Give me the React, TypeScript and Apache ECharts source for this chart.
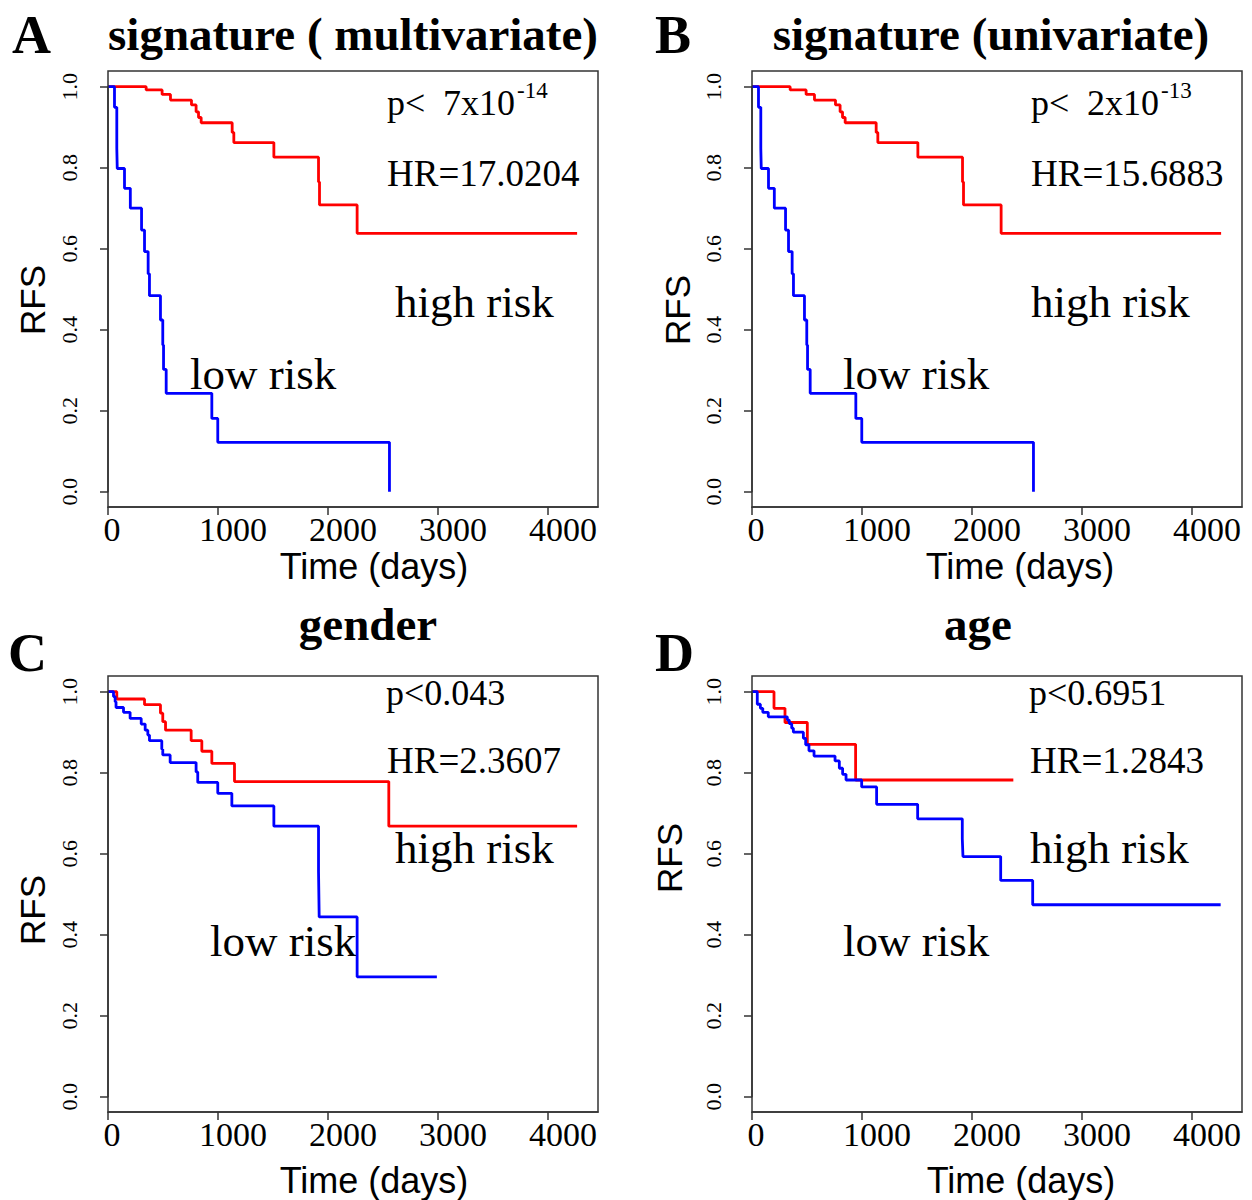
import React, { useEffect, useRef } from "react";
import * as echarts from "echarts";

// ---- Data ----
// Panel A / B : signature
const sigHighT = [0, 347, 492, 568, 759, 801, 823, 847, 1129, 1144, 1508, 1914, 1923, 2265, 4265];
const sigHighS = [1, 0.992, 0.981, 0.967, 0.955, 0.938, 0.924, 0.911, 0.887, 0.862, 0.826, 0.765, 0.708, 0.638, 0.638];
const sigLowT = [0, 59, 80, 84, 150, 203, 305, 332, 365, 377, 477, 498, 505, 529, 944, 998, 2559];
const sigLowS = [1, 0.949, 0.848, 0.798, 0.749, 0.7, 0.646, 0.593, 0.538, 0.484, 0.424, 0.362, 0.302, 0.243, 0.181, 0.122, 0];
// Panel C : gender
const genHighT = [0, 80, 332, 477, 498, 523, 756, 853, 944, 1150, 2553, 4265];
const genHighS = [1, 0.982, 0.968, 0.947, 0.926, 0.905, 0.879, 0.853, 0.823, 0.778, 0.668, 0.668];
const genLowT = [0, 50, 65, 73, 141, 201, 302, 338, 362, 377, 489, 498, 565, 801, 816, 998, 1126, 1508, 1914, 1920, 2265, 2990];
const genLowS = [1, 0.988, 0.975, 0.961, 0.949, 0.934, 0.92, 0.905, 0.893, 0.879, 0.858, 0.844, 0.825, 0.802, 0.776, 0.749, 0.718, 0.668, 0.556, 0.444, 0.296, 0.296];
// Panel D : age
const ageHighT = [0, 200, 300, 503, 942, 2376];
const ageHighS = [1, 0.959, 0.924, 0.87, 0.782, 0.782];
const ageLowT = [0, 48, 76, 98, 148, 321, 339, 361, 376, 467, 488, 518, 564, 755, 794, 824, 855, 997, 1133, 1506, 1912, 1918, 2261, 2552, 4261];
const ageLowS = [1, 0.969, 0.959, 0.949, 0.938, 0.93, 0.921, 0.91, 0.9, 0.885, 0.869, 0.854, 0.841, 0.829, 0.811, 0.796, 0.782, 0.765, 0.722, 0.686, 0.637, 0.593, 0.534, 0.474, 0.474];

const xTicks = [0, 1000, 2000, 3000, 4000];
const xMax = 4455;
const yTicks = [0, 0.2, 0.4, 0.6, 0.8, 1.0];

const panelLetters = ["A", "B", "C", "D"];
const panelTitles = ["signature ( multivariate)", "signature (univariate)", "gender", "age"];
const pMain = ["7x10", "2x10", "", ""];
const pSup = ["-14", "-13", "", ""];
const pPlain = ["", "", "p<0.043", "p<0.6951"];
const hrTexts = ["HR=17.0204", "HR=15.6883", "HR=2.3607", "HR=1.2843"];

const SERIF = "'Liberation Serif', 'Times New Roman', serif";
const SANS = "'Liberation Sans', Arial, sans-serif";

export default function App() {
  const ref = useRef<HTMLDivElement>(null);

  useEffect(() => {
    document.body.style.margin = "0";
    if (!ref.current) return;
    const chart = echarts.init(ref.current, undefined, { renderer: "svg" });

    const curves = [
      [sigHighT, sigHighS, sigLowT, sigLowS],
      [sigHighT, sigHighS, sigLowT, sigLowS],
      [genHighT, genHighS, genLowT, genLowS],
      [ageHighT, ageHighS, ageLowT, ageLowS],
    ];
    const lefts = [108, 752, 108, 752];
    const tops = [86.7, 86.7, 691.7, 691.7];
    const gridW = 490; // 0..xMax
    const gridH = 405; // 0..1
    const boxH = 436;

    const grids: any[] = [];
    const xAxes: any[] = [];
    const yAxes: any[] = [];
    const series: any[] = [];
    const graphics: any[] = [];

    const txt = (text: string, x: number, y: number, size: number, family: string, opts: any = {}) => ({
      type: "text",
      x,
      y,
      rotation: opts.rotation || 0,
      z: 10,
      style: {
        text,
        fill: "#000",
        fontSize: size,
        fontFamily: family,
        fontWeight: opts.bold ? "bold" : "normal",
        align: opts.align || "left",
        textAlign: opts.align || "left",
        verticalAlign: "middle",
        textVerticalAlign: "middle",
      },
    });

    for (let i = 0; i < 4; i++) {
      const L = lefts[i];
      const T = tops[i];
      grids.push({ left: L, top: T, width: gridW, height: gridH, outerBoundsMode: "none", containLabel: false });
      xAxes.push({
        type: "value",
        gridIndex: i,
        min: 0,
        max: xMax,
        interval: 1000,
        offset: 15.3,
        axisLine: { show: true, onZero: false, lineStyle: { color: "#333", width: 1.5 } },
        axisTick: { show: true, length: 8, customValues: xTicks, lineStyle: { color: "#333", width: 1.5 } },
        splitLine: { show: false },
        axisLabel: {
          margin: 5,
          color: "#000",
          customValues: xTicks,
          formatter: (v: number) =>
            v === 0 ? "{z|0}" : v % 1000 === 0 && v <= 4000 ? `{n|${v}}` : "",
          rich: {
            z: { fontSize: 34, fontFamily: SERIF, color: "#000", padding: [0, 0, 0, 8] },
            n: { fontSize: 34, fontFamily: SERIF, color: "#000", padding: [0, 0, 0, 30] },
          },
        },
      });
      yAxes.push({
        type: "value",
        gridIndex: i,
        min: yTicks[0],
        max: yTicks[yTicks.length - 1],
        interval: 0.2,
        axisLine: { show: true, onZero: false, lineStyle: { color: "#333", width: 1.5 } },
        axisTick: { show: true, length: 8, lineStyle: { color: "#333", width: 1.5 } },
        splitLine: { show: false },
        axisLabel: {
          rotate: 90,
          margin: 28,
          color: "#000",
          fontSize: 22,
          fontFamily: SERIF,
          formatter: (v: number) => v.toFixed(1),
        },
      });
      const [hT, hS, lT, lS] = curves[i];
      series.push({
        type: "line",
        xAxisIndex: i,
        yAxisIndex: i,
        step: "end",
        symbol: "none",
        clip: false,
        lineStyle: { color: "#FF0000", width: 2.8 },
        data: hT.map((t, k) => [t, hS[k]]),
      });
      series.push({
        type: "line",
        xAxisIndex: i,
        yAxisIndex: i,
        step: "end",
        symbol: "none",
        clip: false,
        lineStyle: { color: "#0000FF", width: 2.8 },
        data: lT.map((t, k) => [t, lS[k]]),
      });

      // Box
      const boxTop = T - 15.7;
      graphics.push({
        type: "rect",
        shape: { x: L, y: boxTop, width: gridW, height: boxH },
        style: { fill: "none", stroke: "#333", lineWidth: 1.5 },
        z: 5,
      });
    }

    // Titles & letters
    graphics.push(txt(panelLetters[0], 12, 35, 54, SERIF, { bold: true }));
    graphics.push(txt(panelLetters[1], 655, 35, 54, SERIF, { bold: true }));
    graphics.push(txt(panelLetters[2], 8, 653, 54, SERIF, { bold: true }));
    graphics.push(txt(panelLetters[3], 655, 653, 54, SERIF, { bold: true }));
    graphics.push(txt(panelTitles[0], 353, 34, 47, SERIF, { bold: true, align: "center" }));
    graphics.push(txt(panelTitles[1], 991, 34, 47, SERIF, { bold: true, align: "center" }));
    graphics.push(txt(panelTitles[2], 368, 624, 47, SERIF, { bold: true, align: "center" }));
    graphics.push(txt(panelTitles[3], 978, 624, 47, SERIF, { bold: true, align: "center" }));

    // p-values & HR
    graphics.push(txt("p<", 387, 103, 36, SERIF));
    graphics.push(txt(pMain[0], 443, 103, 36, SERIF));
    graphics.push(txt(pSup[0], 517, 90, 23, SERIF));
    graphics.push(txt("p<", 1031, 103, 36, SERIF));
    graphics.push(txt(pMain[1], 1087, 103, 36, SERIF));
    graphics.push(txt(pSup[1], 1161, 90, 23, SERIF));
    graphics.push(txt(pPlain[2], 386, 693, 36, SERIF));
    graphics.push(txt(pPlain[3], 1029, 693, 36, SERIF));
    graphics.push(txt(hrTexts[0], 387, 173, 37, SERIF));
    graphics.push(txt(hrTexts[1], 1031, 173, 37, SERIF));
    graphics.push(txt(hrTexts[2], 387, 760, 37, SERIF));
    graphics.push(txt(hrTexts[3], 1030, 760, 37, SERIF));

    // risk labels
    graphics.push(txt("high risk", 395, 302, 45, SERIF));
    graphics.push(txt("low risk", 190, 374, 45, SERIF));
    graphics.push(txt("high risk", 1031, 302, 45, SERIF));
    graphics.push(txt("low risk", 843, 374, 45, SERIF));
    graphics.push(txt("high risk", 395, 848, 45, SERIF));
    graphics.push(txt("low risk", 210, 941, 45, SERIF));
    graphics.push(txt("high risk", 1030, 848, 45, SERIF));
    graphics.push(txt("low risk", 843, 941, 45, SERIF));

    // axis names
    graphics.push(txt("Time (days)", 374, 566, 36, SANS, { align: "center" }));
    graphics.push(txt("Time (days)", 1020, 566, 36, SANS, { align: "center" }));
    graphics.push(txt("Time (days)", 374, 1180, 36, SANS, { align: "center" }));
    graphics.push(txt("Time (days)", 1021, 1180, 36, SANS, { align: "center" }));
    graphics.push(txt("RFS", 32, 300, 35, SANS, { align: "center", rotation: Math.PI / 2 }));
    graphics.push(txt("RFS", 677, 310, 35, SANS, { align: "center", rotation: Math.PI / 2 }));
    graphics.push(txt("RFS", 32, 910, 35, SANS, { align: "center", rotation: Math.PI / 2 }));
    graphics.push(txt("RFS", 669, 858, 35, SANS, { align: "center", rotation: Math.PI / 2 }));

    chart.setOption({
      animation: false,
      backgroundColor: "#fff",
      grid: grids,
      xAxis: xAxes,
      yAxis: yAxes,
      series,
      graphic: { elements: graphics },
    });

    return () => chart.dispose();
  }, []);

  return <div ref={ref} style={{ width: 1252, height: 1200 }} />;
}
